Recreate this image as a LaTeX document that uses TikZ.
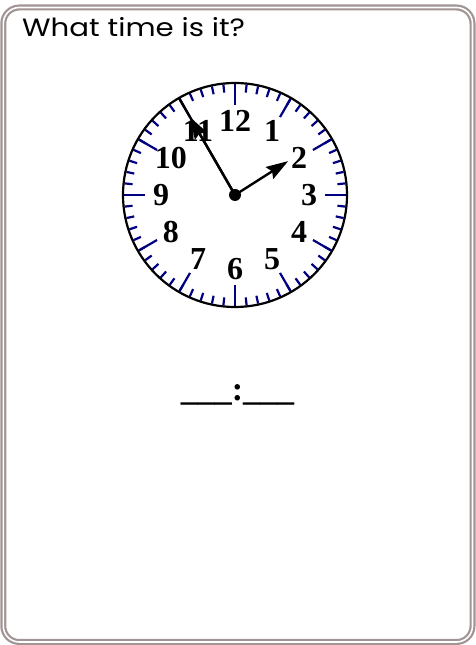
\documentclass[tikz,border=0pt]{standalone}
\usepackage{fontspec}
\setmainfont{Liberation Serif}
\newfontfamily\titlefont{Poppins}
\usetikzlibrary{arrows.meta}
\definecolor{framegray}{RGB}{160,148,148}
\definecolor{ticknavy}{RGB}{0,0,128}
\begin{document}
\begin{tikzpicture}
[x=1pt,y=1pt,every node/.style={inner sep=0pt},
 hand/.style={line width=2.4pt,line cap=round},
 handtip/.style={-{Stealth[length=22pt,width=14pt,inset=3pt]}},
 numeral/.style={font=\fontsize{32}{32}\selectfont\bfseries},
 tick/.style={ticknavy,line width=2.2pt}]
\def \radius {112}
\def \numr {74}
\def \minang {120}   % 55 minutes
\def \hourang {32.5} % 1:55
\useasboundingbox (0,0) rectangle (475,645);
% card frame
\draw[framegray,line width=2.2pt,double=white,double distance=1.6pt,rounded corners=16pt] (3.3,3) rectangle (472.5,637.5);
\node[anchor=base west,font=\titlefont\fontsize{25}{25}\selectfont] (title) at (22,608) {\scalebox{1.17}[1]{What time is it?}};
% clock face
\begin{scope}[shift={(235,450)}]
\foreach \m in {0,...,59}
{
  \draw[tick] (90-6*\m:\radius-1) -- (90-6*\m:\radius-9);
}
\foreach \h in {1,...,12}
{
  \draw[tick] (90-30*\h:\radius-1) -- (90-30*\h:\radius-22);
  \node[numeral] (h\h) at (90-30*\h:\numr) {\h};
}
\draw[line width=2.2pt] (0,0) circle (\radius);
\node[circle,fill,minimum size=12pt] (c) at (0,0) {};
% hands
\coordinate (mtip) at (\minang:\radius-1);
\coordinate (marrow) at (\minang:90);
\coordinate (htip) at (\hourang:63);
\draw[hand] (c.center) -- (mtip);
\draw[hand,handtip] (c.center) -- (marrow);
\draw[hand,handtip] (c.center) -- (htip);
\end{scope}
\node[anchor=base,font=\fontsize{34}{34}\selectfont\bfseries] (blank) at (237.5,244) {\_\_\_:\_\_\_};
\end{tikzpicture}
\end{document}
